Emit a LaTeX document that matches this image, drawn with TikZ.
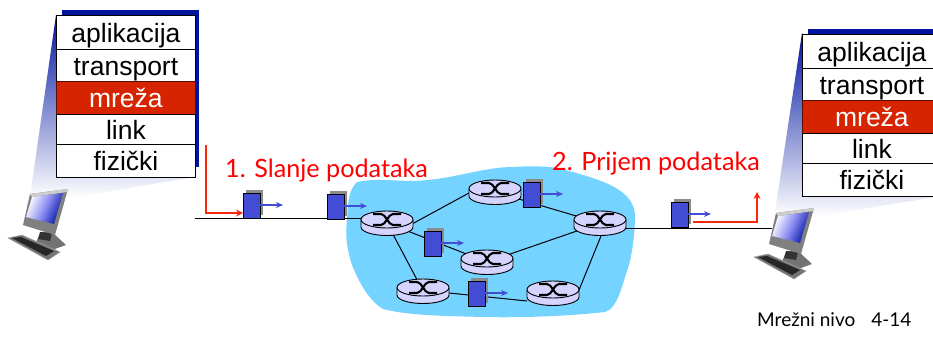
\documentclass[tikz,border=0pt]{standalone}
\usepackage{fontspec}
\setmainfont{Liberation Sans}
\newfontfamily\handfont{Lato}
\usetikzlibrary{arrows.meta,shadings}
\definecolor{stackblue}{RGB}{0,20,160}
\definecolor{netred}{RGB}{214,36,0}
\definecolor{cloudblue}{RGB}{117,211,255}
\definecolor{routerfill}{RGB}{212,212,255}
\definecolor{pktblue}{RGB}{66,76,212}
\definecolor{redline}{RGB}{250,40,10}
\tikzset{
  layer/.style={draw=black,line width=0.8pt,fill=white,minimum width=139pt,inner sep=0pt,text height=25pt,text depth=5pt,font=\fontsize{26.5}{26.5}\selectfont,text=black,anchor=north west},
  netlayer/.style={layer,fill=netred,draw=black!60!netred,text=white},
  packet/.style={draw=black,line width=1pt,fill=pktblue,minimum width=17pt,minimum height=25pt,inner sep=0pt,anchor=north west},
  pktshadow/.style={fill=black!45},
  link/.style={draw=black,line width=1pt},
  move/.style={draw=pktblue,line width=1.2pt,-{Stealth[length=7pt,width=6pt]}},
  path red/.style={draw=redline,line width=1.3pt,-{Stealth[length=7pt,width=7pt]}},
  handtext/.style={text=red,font=\handfont\fontsize{25.2}{25.2}\selectfont,inner sep=0pt,anchor=west},
  note/.style={text=black,font=\handfont\fontsize{19}{19}\selectfont,inner sep=0pt,anchor=west},
  beam/.style={top color=stackblue,bottom color=white,draw=none}
}
\newcommand{\routerdraw}[2]{%
  \begin{scope}[shift={(#1,#2)}]
    \fill[routerfill,draw=black,line width=0.9pt] (-26,-3.5) -- (-26,4) arc[start angle=180,end angle=0,x radius=26,y radius=8.5] -- (26,-3.5);
    \fill[routerfill,draw=black,line width=0.9pt] (0,-3.5) ellipse[x radius=26,y radius=8.5];
    \draw[black,line width=2.1pt] (-14,-9) -- (-6,-9) .. controls (-1,-9) and (1,2) .. (6,2) -- (14,2);
    \draw[black,line width=2.1pt] (-14,2) -- (-6,2) .. controls (-1,2) and (1,-9) .. (6,-9) -- (14,-9);
  \end{scope}}
\newcommand{\computer}[2]{%
  \begin{scope}[shift={(#1,#2)}]
    \fill[black!55] (41,232) -- (52,232) -- (66,245) -- (52,250) -- (36,242) -- cycle;
    \fill[black!80] (40,232) -- (52,233) -- (50,241) -- (38,239) -- cycle;
    \fill[black!55,draw=black!35,line width=0.5pt] (8,238) -- (22,235) -- (60,252) -- (48,260) -- cycle;
    \fill[black!85] (12,238) -- (21,237) -- (54,251) -- (46,256) -- cycle;
    \fill[black!50] (30,194) -- (68,189) -- (55,235) -- (23,225) -- cycle;
    \fill[black!20] (30,194) -- (68,189) -- (67,192) -- (32,197) -- cycle;
    \shade[left color=white,right color=stackblue,shading angle=65,middle color=black!10!blue!45] (32,197) -- (63,193) -- (54,224) -- (26,217) -- cycle;
  \end{scope}}
\newcommand{\stack}[3]{% x, y, suffix
  \begin{scope}[shift={(#1,#2)}]
    \fill[stackblue] (6,-5) rectangle (143,152);
    \node[layer,minimum height=34pt] (app#3) at (0,0) {aplikacija};
    \node[layer,minimum height=32pt] (tr#3) at (0,34) {transport};
    \node[netlayer,minimum height=33pt] (net#3) at (0,66) {mreža};
    \node[layer,minimum height=30pt] (lnk#3) at (0,99) {link};
    \node[layer,minimum height=33pt] (phy#3) at (0,129) {fizički};
  \end{scope}}
\begin{document}
\begin{tikzpicture}[x=1pt,y=-1pt]
\useasboundingbox (0,0) rectangle (933,342);
\clip (0,0) rectangle (933,342);
\fill[white] (0,0) rectangle (933,342);
% beams
\shade[beam] (56,15) -- (30,197) -- (70,198) -- (195,177) -- cycle;
\shade[beam] (802,33) -- (775,212) -- (815,217) -- (941,196) -- cycle;
% stacks
\stack{56}{15}{L}
\stack{802}{34}{R}
% computers
\computer{0}{0}
\computer{746}{19}
% cloud
\fill[cloudblue] (357,182)
  .. controls (380,177) and (405,183) .. (427,180)
  .. controls (455,178) and (485,167) .. (513,167)
  .. controls (530,166) and (545,166) .. (557,168)
  .. controls (585,175) and (610,182) .. (623,193)
  .. controls (632,200) and (636,210) .. (635,220)
  .. controls (634,240) and (632,255) .. (628,268)
  .. controls (622,285) and (618,308) .. (605,312)
  .. controls (570,316) and (520,318) .. (483,317)
  .. controls (450,316) and (410,316) .. (383,309)
  .. controls (368,300) and (358,280) .. (352,265)
  .. controls (347,250) and (345,235) .. (347,220)
  .. controls (348,205) and (348,190) .. (357,182) -- cycle;
% named anchors
\coordinate (hostL) at (195,218);
\coordinate (hostR) at (772,228);
\coordinate (rA) at (387,223);
\coordinate (rAr) at (412,224);
\coordinate (rB) at (495,192);
\coordinate (rBl) at (469,193);
\coordinate (rC) at (600,223);
\coordinate (rD) at (487,262);
\coordinate (rE) at (423,291);
\coordinate (rEr) at (449,293);
\coordinate (rF) at (553,293);
\coordinate (rFl) at (527,301);
\coordinate (rFr) at (579,290);
\coordinate (rCb) at (601,236);
% links
\draw[link] (hostL) -- (rA |- hostL) ;
\draw[link] (rC |- hostR) -- (hostR);
\draw[link] (rAr) -- (rBl);
\draw[link] (rB) -- (rC);
\draw[link] (rA) -- (rD);
\draw[link] (rD) -- (rC);
\draw[link] (rA) -- (rE);
\draw[link] (rEr) -- (rFl);
\draw[link] (rFr) -- (rCb);
% routers
\routerdraw{387}{223}
\routerdraw{495}{192}
\routerdraw{600}{223}
\routerdraw{487}{262}
\routerdraw{423}{291}
\routerdraw{553}{293}
% packets
\foreach \nm/\px/\py in {pa/243/193,pb/327/194,pc/523/182,pd/424/231,pe/468/281,pf/671/202}{
  \fill[pktshadow] (\px+3,\py-3) rectangle (\px+20,\py+22);
  \node[packet] (\nm) at (\px,\py) {};
  \coordinate (\nm t) at (\px+40,\py+12);
  \draw[move] (\px+17,\py+12) -- (\nm t);
}
% red paths
\coordinate (sA) at (206,145);
\coordinate (sB) at (206,213);
\coordinate (tA) at (693,222);
\coordinate (tB) at (757,222);
\coordinate (tC) at (757,192);
\draw[path red] (sA) -- (sB) -- (pa.west |- sB);
\draw[path red] (tA) -- (tB) -- (tC);
% labels
\node[handtext] (lab1) at (225,171) {1. Slanje podataka};
\node[handtext] (lab2) at (552,164) {2. Prijem podataka};
\node[note] (foot) at (757,320) {Mrežni nivo\hspace{16pt}4-14};
\end{tikzpicture}
\end{document}
